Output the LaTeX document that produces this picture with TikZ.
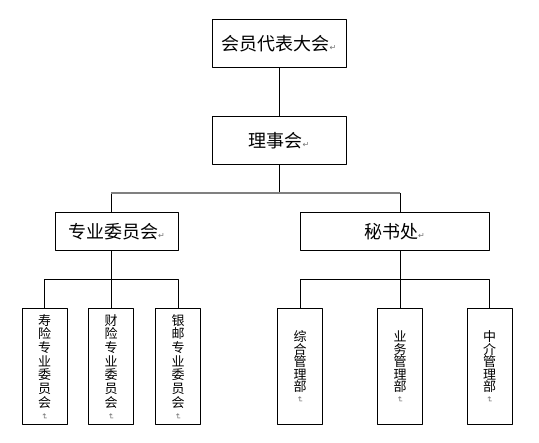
\documentclass[tikz,border=0pt]{standalone}
\usepackage{fontspec}
\usepackage{tikz}
\newfontfamily\cjk{Noto Sans CJK SC}
\newfontfamily\symf{DejaVu Sans}
\newcommand\pmark{{\symf\fontsize{8}{8}\selectfont\color{black!55}↵}}
\newcommand\vmark{\rotatebox[origin=c]{-90}{\pmark}}

\begin{document}
\begin{tikzpicture}[x=1pt,y=-1pt,line join=round,line width=1pt,
  box/.style={draw,inner sep=0pt,font=\cjk\fontsize{18}{20}\selectfont},
  vbox/.style={draw,inner sep=0pt,minimum width=45pt,minimum height=116pt,align=center,font=\cjk\fontsize{13}{#1}\selectfont},
  vbox/.default=13.7]
\useasboundingbox (0,0) rectangle (539,443);
\node[box,minimum width=134pt,minimum height=48pt] (dh) at (279,44) {会员代表大会\pmark};
\node[box,minimum width=134pt,minimum height=48pt] (lsh) at (279,141) {理事会\pmark};
\node[box,minimum width=123pt,minimum height=38pt] (zy) at (116.5,232) {专业委员会\pmark};
\node[box,minimum width=189pt,minimum height=38pt] (ms) at (394.5,232) {秘书处\pmark};
\foreach \n/\x/\t in {sx/44.5/{寿\\险\\专\\业\\委\\员\\会},cx/111/{财\\险\\专\\业\\委\\员\\会},yy/178/{银\\邮\\专\\业\\委\\员\\会}}
  \node[vbox] (\n) at (\x,367) {\t\\[-2pt]\vmark};
\foreach \n/\x/\t in {zh/300/{综\\合\\管\\理\\部},yw/400/{业\\务\\管\\理\\部},zj/489.5/{中\\介\\管\\理\\部}}
  \node[vbox=12.5] (\n) at (\x,367) {\t\\[-2pt]\vmark};
\coordinate (zyin) at (111,193);
\coordinate (msin) at (400,193);
\coordinate (zyfork) at (111,280);
\coordinate (msfork) at (400,280);
\draw (dh.south) -- (lsh.north);
\draw (lsh.south) -- (lsh.south |- zyin);
\draw (zyin) -- (zyin |- zy.north);
\draw (msin) -- (msin |- ms.north);
\draw[black!50,line width=2pt] (zyin) -- (msin);
\draw (zyfork |- zy.south) -- (zyfork);
\draw (msfork |- ms.south) -- (msfork);
\foreach \c in {sx,cx,yy} \draw (zyfork) -| (\c.north);
\foreach \c in {zh,yw,zj} \draw (msfork) -| (\c.north);
\end{tikzpicture}
\end{document}
